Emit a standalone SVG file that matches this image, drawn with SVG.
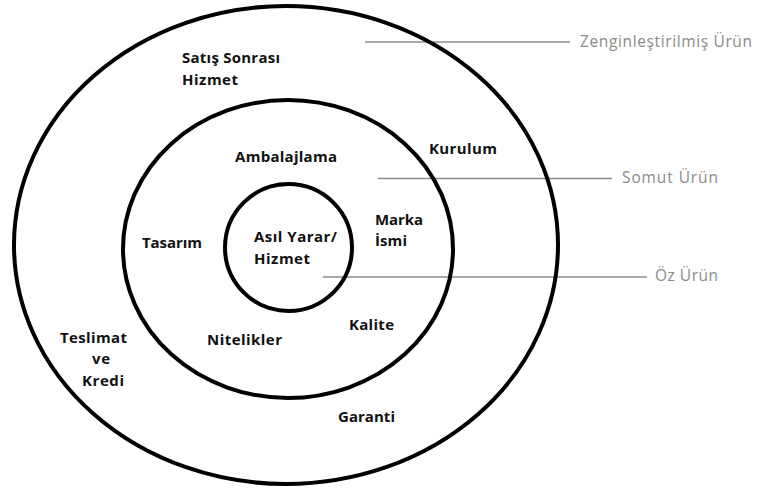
<svg xmlns="http://www.w3.org/2000/svg" width="757" height="488" viewBox="0 0 757 488">
  <style>
    .ring { fill: none; stroke: #000; stroke-width: 4; }
    .lbl { font-family: "Open Sans", "Liberation Sans", Arial, sans-serif; font-size: 15px; font-weight: bold; fill: #111; }
    .tag { font-family: "Open Sans", "Liberation Sans", Arial, sans-serif; font-size: 15.5px; fill: #8a8a8a; }
    .lead { stroke: #8c8c8c; stroke-width: 1.4; fill: none; }
  </style>
  <rect width="757" height="488" fill="#fff"/>

  <!-- leader lines from each ring to its caption -->
  <g id="connectors">
    <line class="lead" x1="365" y1="42" x2="570" y2="42"/>
    <line class="lead" x1="378" y1="178.5" x2="612" y2="178.5"/>
    <line class="lead" x1="323" y1="277" x2="647" y2="277"/>
  </g>

  <!-- outer ring: augmented product -->
  <g id="zenginlestirilmis-urun">
    <ellipse class="ring" cx="286" cy="245" rx="272" ry="239"/>
    <text class="lbl" x="182" y="63" textLength="98">Satış Sonrası</text>
    <text class="lbl" x="182" y="85" textLength="56">Hizmet</text>
    <text class="lbl" x="429" y="154" textLength="68">Kurulum</text>
    <text class="lbl" x="60" y="343" textLength="67">Teslimat</text>
    <text class="lbl" x="92" y="364" textLength="18">ve</text>
    <text class="lbl" x="82" y="386" textLength="42">Kredi</text>
    <text class="lbl" x="338" y="422" textLength="57">Garanti</text>
    <text class="tag" x="580" y="47" textLength="172">Zenginleştirilmiş Ürün</text>
  </g>

  <!-- middle ring: actual product -->
  <g id="somut-urun">
    <ellipse class="ring" cx="288" cy="249" rx="165" ry="149"/>
    <text class="lbl" x="235" y="162" textLength="102">Ambalajlama</text>
    <text class="lbl" x="375" y="225" textLength="48">Marka</text>
    <text class="lbl" x="375" y="246" textLength="32">İsmi</text>
    <text class="lbl" x="142" y="248" textLength="60">Tasarım</text>
    <text class="lbl" x="207" y="345" textLength="75">Nitelikler</text>
    <text class="lbl" x="349" y="330" textLength="45">Kalite</text>
    <text class="tag" x="622" y="183" textLength="96">Somut Ürün</text>
  </g>

  <!-- inner ring: core product -->
  <g id="oz-urun">
    <ellipse class="ring" cx="288.5" cy="247.5" rx="63.5" ry="63.5"/>
    <text class="lbl" x="254" y="242" textLength="83">Asıl Yarar/</text>
    <text class="lbl" x="254" y="264" textLength="56">Hizmet</text>
    <text class="tag" x="655" y="281" textLength="63">Öz Ürün</text>
  </g>
</svg>
